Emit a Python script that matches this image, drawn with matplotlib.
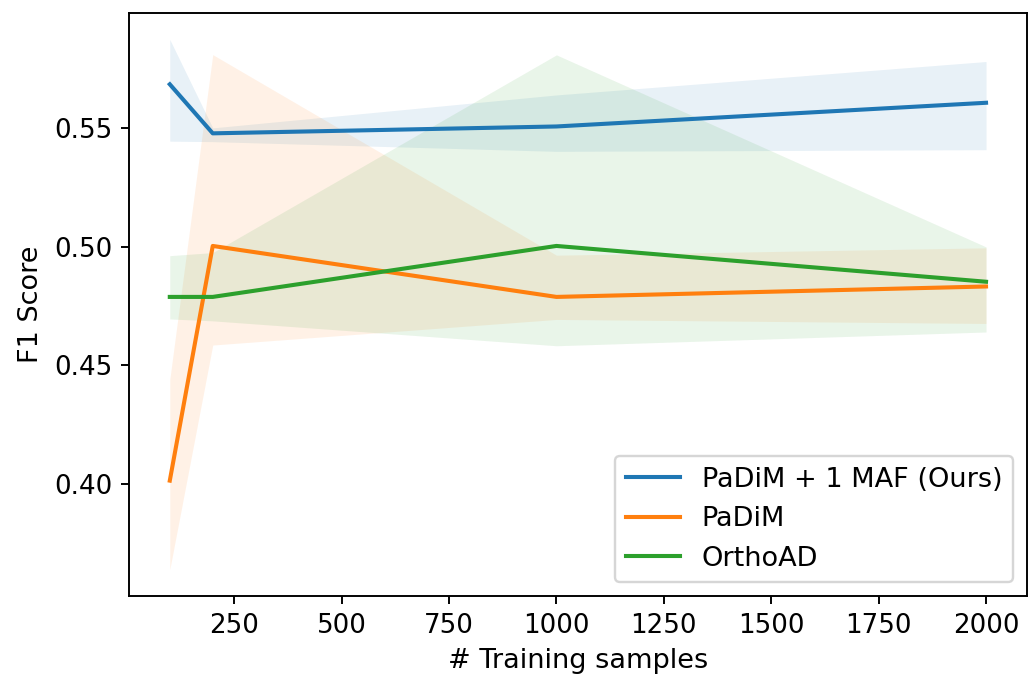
import matplotlib
matplotlib.use("Agg")
import matplotlib.pyplot as plt

# ──────────────────────────────────────────────
#  Data
# ──────────────────────────────────────────────

n_samples = [100, 200, 1000, 2000]

ours_mean = [0.5685, 0.5478, 0.5507, 0.5607]
ours_low = [0.5445, 0.5443, 0.5402, 0.5409]
ours_high = [0.5874, 0.5501, 0.5640, 0.5781]

padim_mean = [0.4013, 0.5003, 0.4788, 0.4832]
padim_low = [0.3638, 0.4585, 0.4693, 0.4676]
padim_high = [0.4440, 0.5810, 0.4964, 0.4995]

ortho_mean = [0.4788, 0.4788, 0.5003, 0.4852]
ortho_low = [0.4695, 0.4687, 0.4582, 0.4640]
ortho_high = [0.4962, 0.4975, 0.5809, 0.4999]

labels = ["PaDiM + 1 MAF (Ours)", "PaDiM", "OrthoAD"]

# ──────────────────────────────────────────────
#  Plot
# ──────────────────────────────────────────────

plt.rcParams["font.size"] = 11.3
plt.rcParams["xtick.labelsize"] = 10.9
plt.rcParams["ytick.labelsize"] = 10.9

fig, ax = plt.subplots(figsize=(6.0, 3.918), dpi=172.8)
fig.subplots_adjust(left=0.1244, right=0.9904, top=0.9808, bottom=0.1196)

series = [
    (ours_mean, ours_low, ours_high),
    (padim_mean, padim_low, padim_high),
    (ortho_mean, ortho_low, ortho_high),
]

for (mean, low, high), label in zip(series, labels):
    line, = ax.plot(n_samples, mean, label=label, linewidth=1.7)
    ax.fill_between(n_samples, low, high, color=line.get_color(), alpha=0.1, linewidth=0)

ax.set_xlabel("# Training samples")
ax.set_ylabel("F1 Score")
ax.set_xticks([250, 500, 750, 1000, 1250, 1500, 1750, 2000])
ax.set_yticks([0.40, 0.45, 0.50, 0.55])
ax.legend(loc="lower right")

fig.savefig("out.png", dpi=172.8)
